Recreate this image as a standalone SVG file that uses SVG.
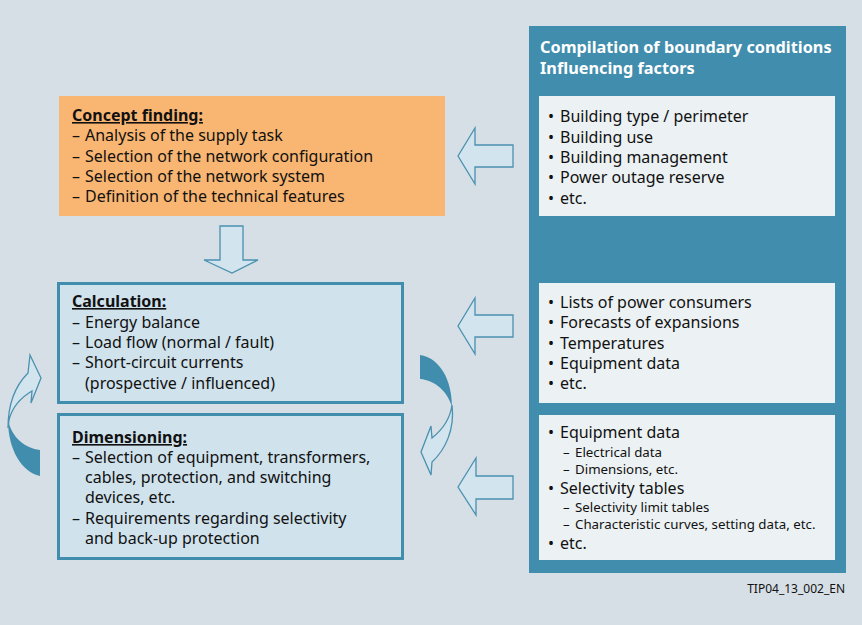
<svg xmlns="http://www.w3.org/2000/svg" width="862" height="625" viewBox="0 0 862 625">
<style>
text{font-family:"Noto Sans","Liberation Sans",sans-serif;fill:#111;}
.t{font-size:16px;}
.s{font-size:13.3px;}
.h{font-size:16px;font-weight:bold;text-decoration:underline;}
.w{font-size:16.3px;font-weight:bold;fill:#fff;}
.tag{font-size:12px;}
.arr{fill:#D2E4EE;stroke:#4A90B0;stroke-width:1.3;stroke-linejoin:miter;}
.dark{fill:#418DAD;}
.inner{fill:#ECF1F4;}
.box{fill:#D0E2EC;stroke:#418DAD;stroke-width:3;}
</style>
<rect width="862" height="625" fill="#D6DFE5"/>

<g id="panel">
<rect x="529" y="26" width="317" height="547" fill="#418DAD"/>
<text class="w" x="540" y="53">Compilation of boundary conditions</text>
<text class="w" x="540" y="74">Influencing factors</text>
</g>

<g id="factors1">
<rect class="inner" x="539" y="96" width="296" height="120"/>
<text class="t" x="548" y="122">•<tspan x="560">Building type / perimeter</tspan></text>
<text class="t" x="548" y="143">•<tspan x="560">Building use</tspan></text>
<text class="t" x="548" y="163">•<tspan x="560">Building management</tspan></text>
<text class="t" x="548" y="183">•<tspan x="560">Power outage reserve</tspan></text>
<text class="t" x="548" y="204">•<tspan x="560">etc.</tspan></text>
</g>

<g id="factors2">
<rect class="inner" x="539" y="283" width="296" height="120"/>
<text class="t" x="548" y="308">•<tspan x="560">Lists of power consumers</tspan></text>
<text class="t" x="548" y="328">•<tspan x="560">Forecasts of expansions</tspan></text>
<text class="t" x="548" y="349">•<tspan x="560">Temperatures</tspan></text>
<text class="t" x="548" y="369">•<tspan x="560">Equipment data</tspan></text>
<text class="t" x="548" y="389">•<tspan x="560">etc.</tspan></text>
</g>

<g id="factors3">
<rect class="inner" x="539" y="415" width="296" height="145"/>
<text class="t" x="548" y="438">•<tspan x="560">Equipment data</tspan></text>
<text class="s" x="563" y="456.5">–<tspan x="575">Electrical data</tspan></text>
<text class="s" x="563" y="474">–<tspan x="575">Dimensions, etc.</tspan></text>
<text class="t" x="548" y="494">•<tspan x="560">Selectivity tables</tspan></text>
<text class="s" x="563" y="512">–<tspan x="575">Selectivity limit tables</tspan></text>
<text class="s" x="563" y="529">–<tspan x="575">Characteristic curves, setting data, etc.</tspan></text>
<text class="t" x="548" y="549">•<tspan x="560">etc.</tspan></text>
</g>

<g id="concept">
<rect x="59" y="96" width="386" height="120" fill="#F9B672"/>
<text class="h" x="72" y="121">Concept finding:</text>
<text class="t" x="72" y="141">–<tspan x="85">Analysis of the supply task</tspan></text>
<text class="t" x="72" y="162">–<tspan x="85">Selection of the network configuration</tspan></text>
<text class="t" x="72" y="182">–<tspan x="85">Selection of the network system</tspan></text>
<text class="t" x="72" y="202">–<tspan x="85">Definition of the technical features</tspan></text>
</g>

<g id="calculation">
<rect class="box" x="58.5" y="283.5" width="344" height="119"/>
<text class="h" x="72" y="307">Calculation:</text>
<text class="t" x="72" y="328">–<tspan x="85">Energy balance</tspan></text>
<text class="t" x="72" y="348">–<tspan x="85">Load flow (normal / fault)</tspan></text>
<text class="t" x="72" y="368">–<tspan x="85">Short-circuit currents</tspan></text>
<text class="t" x="85" y="389">(prospective / influenced)</text>
</g>

<g id="dimensioning">
<rect class="box" x="58.5" y="414.5" width="344" height="144"/>
<text class="h" x="72" y="443">Dimensioning:</text>
<text class="t" x="72" y="463">–<tspan x="85">Selection of equipment, transformers,</tspan></text>
<text class="t" x="85" y="483">cables, protection, and switching</text>
<text class="t" x="85" y="503">devices, etc.</text>
<text class="t" x="72" y="524">–<tspan x="85">Requirements regarding selectivity</tspan></text>
<text class="t" x="85" y="544">and back-up protection</text>
</g>

<g id="connectors">
<path class="arr" d="M458,156 L475,128 L475,145 L513,145 L513,167 L475,167 L475,184 Z"/>
<path class="arr" d="M458,326 L475,298 L475,315 L513,315 L513,337 L475,337 L475,354 Z"/>
<path class="arr" d="M458,487 L476,458 L476,476 L513,476 L513,499 L476,499 L476,515 Z"/>
<path class="arr" d="M220,226 L243,226 L243,260 L258,260 L232,273 L204,260 L220,260 Z"/>
<path class="dark" d="M8,420 C8,450 22,472 40,476 L40,450 C25,448 12,438 8,420 Z"/>
<path class="arr" d="M8,428 C8,405 15,386 28,373 L30,355 L41,378 L31,403 L32,391 C20,398 12,408 9,420 Z"/>
<path class="dark" d="M420,355 C440,358 452,380 452,407 C448,392 435,380 420,379 Z"/>
<path class="arr" d="M452,405 C455,430 445,450 432,462 L431,475 L421,452 L431,426 L432,438 C442,430 450,420 452,405 Z"/>
</g>

<text class="tag" x="845" y="593" text-anchor="end">TIP04_13_002_EN</text>
</svg>
